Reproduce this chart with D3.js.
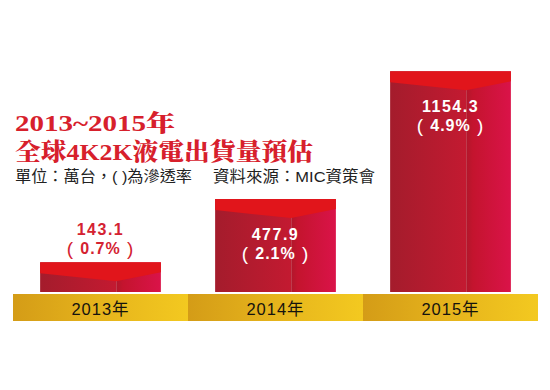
<!DOCTYPE html>
<html><head><meta charset="utf-8">
<script src="https://cdn.jsdelivr.net/npm/d3@7/dist/d3.min.js"></script>
<style>body{margin:0;background:#fff}svg{display:block}</style>
</head><body>
<svg id="c" width="550" height="390"></svg>
<script>
const years = ["2013年", "2014年", "2015年"];
const shipments = [143.1, 477.9, 1154.3];
const penetration = ["0.7%", "2.1%", "4.9%"];
const titleLines = ["2013~2015年", "全球4K2K液電出貨量預估"];
const noteUnit = "單位：萬台，( )為滲透率";
const noteSource = "資料來源：MIC資策會";

const svg = d3.select("#c");
const defs = svg.append("defs");
function lin(id, stops) {
  const g = defs.append("linearGradient").attr("id", id).attr("x1", 0).attr("x2", 1).attr("y1", 0).attr("y2", 0);
  stops.forEach(s => g.append("stop").attr("offset", s[0]).attr("stop-color", s[1]));
}
lin("gLeft", [[0, "#a41c2c"], [1, "#c31a31"]]);
lin("gRight", [[0, "#b1172b"], [0.15, "#c4142e"], [1, "#da1349"]]);
lin("gGold", [[0, "#d49c17"], [0.5, "#e6b41c"], [1, "#f3c920"]]);

const band = d3.scaleBand().domain(years).range([13, 538]).padding(0);
const xBar = d3.scaleBand().domain(years).range([13, 538]).paddingInner(0.31).paddingOuter(0.155);
const y = d3.scaleLinear().domain([-14, d3.max(shipments)]).range([292, 71.3]);

const data = years.map((yr, i) => ({ yr, v: shipments[i], p: penetration[i], i }));

// gold base band
svg.append("g").selectAll("rect").data(data).join("rect")
  .attr("x", d => band(d.yr)).attr("width", band.bandwidth())
  .attr("y", 294).attr("height", 27)
  .attr("fill", "url(#gGold)");
svg.append("g").selectAll("text").data(data).join("text")
  .attr("x", d => band(d.yr) + band.bandwidth() / 2).attr("y", 315)
  .attr("text-anchor", "middle")
  .attr("font-family", "'Liberation Sans', 'Noto Sans CJK TC', sans-serif")
  .attr("font-size", 16.5).attr("letter-spacing", 1).attr("fill", "#15130e")
  .text(d => d.yr);

// bars
const bars = svg.append("g").selectAll("g").data(data).join("g");
const split = 0.63;
bars.append("rect")
  .attr("x", d => xBar(d.yr)).attr("y", d => y(d.v))
  .attr("width", xBar.bandwidth() * split).attr("height", d => y(-14) - y(d.v))
  .attr("fill", "url(#gLeft)");
bars.append("rect")
  .attr("x", d => xBar(d.yr) + xBar.bandwidth() * split).attr("y", d => y(d.v))
  .attr("width", xBar.bandwidth() * (1 - split)).attr("height", d => y(-14) - y(d.v))
  .attr("fill", "url(#gRight)");
bars.append("path")
  .attr("d", d => {
    const x0 = xBar(d.yr), w = xBar.bandwidth(), t = y(d.v);
    return `M${x0},${t}H${x0 + w}V${t + 10}L${x0 + w * split},${t + 19}L${x0},${t + 11}Z`;
  })
  .attr("fill", "#e1151b");

// value labels
const lbl = svg.append("g").selectAll("g").data(data).join("g")
  .attr("font-family", "'Liberation Sans', 'Noto Sans CJK TC', sans-serif")
  .attr("font-weight", "bold").attr("font-size", 16).attr("text-anchor", "middle")
  .attr("fill", d => d.i === 0 ? "#d42231" : "#ffffff");
lbl.append("text")
  .attr("x", d => xBar(d.yr) + xBar.bandwidth() / 2)
  .attr("y", d => d.i === 0 ? y(d.v) - 27 : y(d.v) + 41)
  .attr("letter-spacing", 1.5)
  .text(d => d.v.toFixed(1));
const pt = lbl.append("text")
  .attr("x", d => xBar(d.yr) + xBar.bandwidth() / 2)
  .attr("y", d => d.i === 0 ? y(d.v) - 8 : y(d.v) + 60)
  .attr("letter-spacing", 1)
  .style("white-space", "pre");
pt.append("tspan").attr("font-size", 19).attr("font-weight", "normal").attr("dy", 1).text("( ");
pt.append("tspan").attr("dy", -1).text(d => d.p);
pt.append("tspan").attr("font-size", 19).attr("font-weight", "normal").attr("dy", 1).text(" )");

// titles
svg.append("text").attr("x", 15).attr("y", 131)
  .attr("font-family", "'Liberation Serif', 'Noto Serif CJK TC', 'Noto Sans CJK TC', serif")
  .attr("font-weight", 900).attr("font-size", 23).attr("fill", "#d7202c")
  .attr("textLength", 160).attr("lengthAdjust", "spacingAndGlyphs")
  .text(titleLines[0]);
svg.append("text").attr("x", 15).attr("y", 160)
  .attr("font-family", "'Liberation Serif', 'Noto Serif CJK TC', 'Noto Sans CJK TC', serif")
  .attr("font-weight", 900).attr("font-size", 24).attr("fill", "#d7202c")
  .attr("textLength", 298).attr("lengthAdjust", "spacingAndGlyphs")
  .text(titleLines[1]);
svg.append("text").attr("x", 15).attr("y", 182)
  .attr("font-family", "'Liberation Sans', 'Noto Sans CJK TC', sans-serif")
  .attr("font-size", 15.5).attr("fill", "#222")
  .attr("textLength", 177).attr("lengthAdjust", "spacingAndGlyphs")
  .text(noteUnit);
svg.append("text").attr("x", 213).attr("y", 182)
  .attr("font-family", "'Liberation Sans', 'Noto Sans CJK TC', sans-serif")
  .attr("font-size", 15.5).attr("fill", "#222")
  .attr("textLength", 162).attr("lengthAdjust", "spacingAndGlyphs")
  .text(noteSource);
</script>
</body></html>
